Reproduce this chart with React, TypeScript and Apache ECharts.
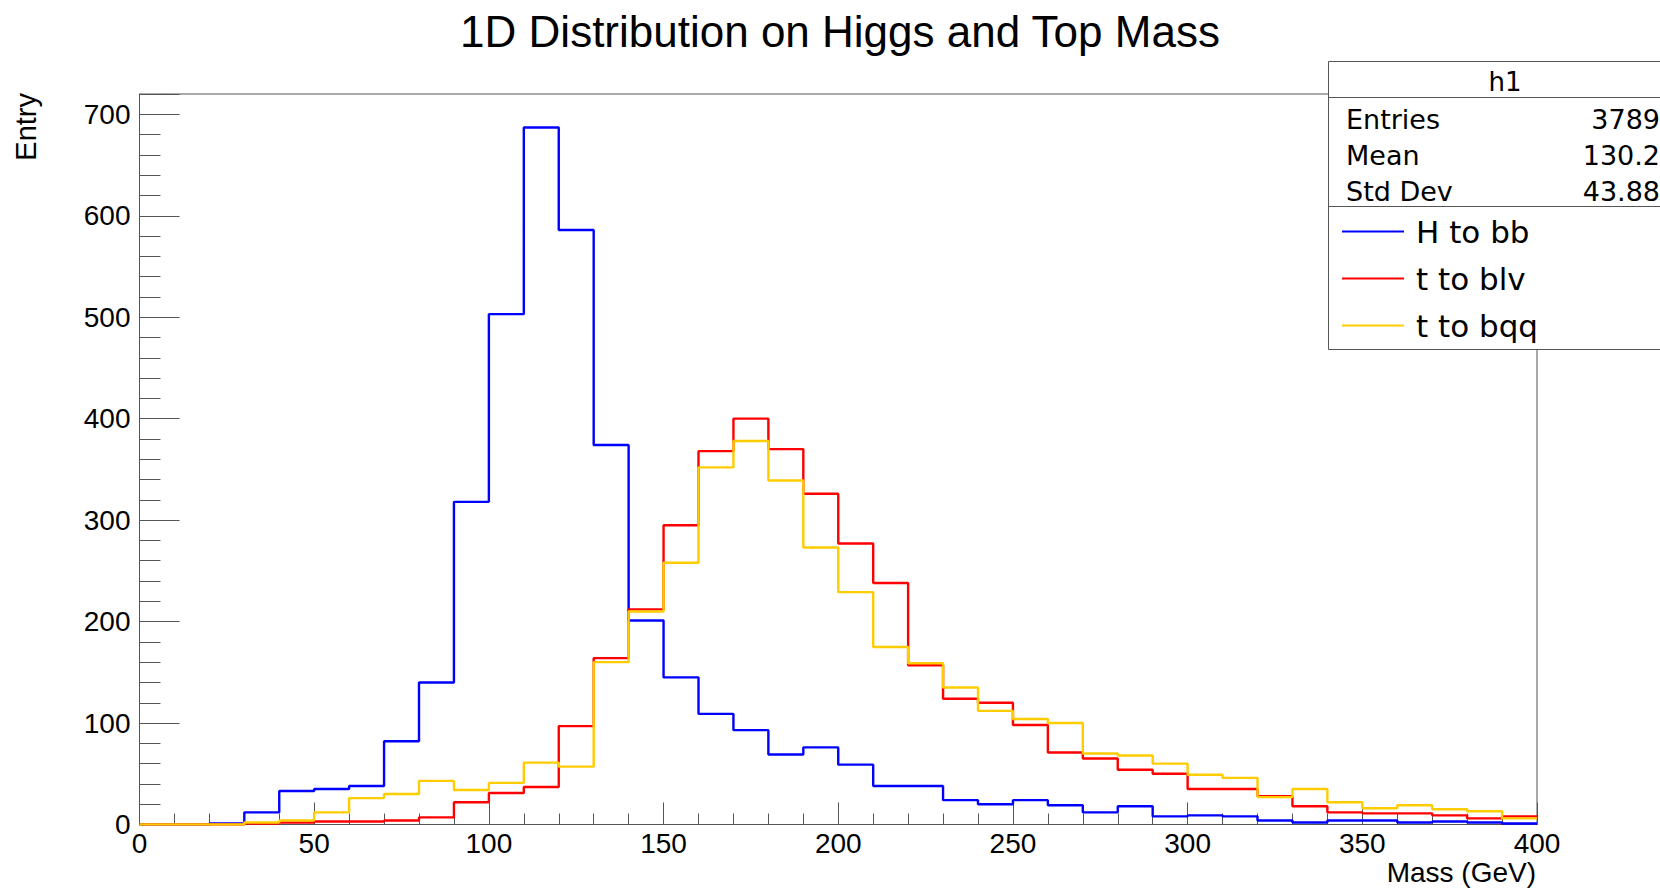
import React, { useEffect, useRef } from "react";
import * as echarts from "echarts";

const binEdges = [
  0, 10, 20, 30, 40, 50, 60, 70, 80, 90, 100, 110, 120, 130, 140, 150, 160, 170, 180, 190, 200,
  210, 220, 230, 240, 250, 260, 270, 280, 290, 300, 310, 320, 330, 340, 350, 360, 370, 380, 390, 400,
];

const hToBB = [
  0, 0, 1, 12, 33, 35, 38, 82, 140, 318, 503, 687, 586, 374, 201, 145, 109, 93, 69, 76,
  59, 38, 38, 24, 20, 24, 19, 12, 18, 8, 9, 8, 4, 2, 4, 4, 2, 3, 2, 1,
];

const tToBLV = [
  0, 0, 0, 1, 2, 3, 3, 4, 7, 22, 31, 37, 97, 164, 212, 295, 368, 400, 370, 326,
  277, 238, 157, 124, 120, 98, 71, 65, 54, 50, 35, 35, 28, 18, 12, 11, 11, 9, 6, 8,
];

const tToBQQ = [
  0, 0, 0, 2, 4, 12, 26, 30, 43, 34, 41, 61, 57, 160, 210, 258, 352, 378, 339, 273,
  229, 175, 159, 135, 112, 104, 100, 70, 68, 60, 49, 46, 27, 35, 22, 16, 19, 15, 13, 6,
];

const seriesNames = ["H to bb", "t to blv", "t to bqq"];
const seriesColors = ["#0000ff", "#ff0000", "#ffcc00"];

const statLabels = ["Entries", "Mean", "Std Dev"];
const statValues = ["3789", "130.2", "43.88"];

const yTickValues = [0, 100, 200, 300, 400, 500, 600, 700];
const xTickValues = [0, 50, 100, 150, 200, 250, 300, 350, 400];

const toSteps = (vals: number[]) =>
  binEdges.map((e, i) => [e, vals[Math.min(i, vals.length - 1)]]);

const AXIS_COLOR = "#555";
const FONT = "Liberation Sans, Arial, Helvetica, sans-serif";

export default function App() {
  const ref = useRef<HTMLDivElement>(null);

  useEffect(() => {
    if (!ref.current) return;
    const chart = echarts.init(ref.current, undefined, { renderer: "svg" });

    const allSeries = [hToBB, tToBLV, tToBQQ];

    const statY = [119, 155, 191];

    const option: any = {
      animation: false,
      backgroundColor: "#ffffff",
      title: {
        text: "1D Distribution on Higgs and Top Mass",
        left: 840,
        top: 9,
        padding: 0,
        textAlign: "center",
        textStyle: {
          fontFamily: FONT,
          fontSize: 44,
          lineHeight: 44,
          fontWeight: "normal",
          color: "#000",
        },
      },
      grid: {
        left: 139.5,
        right: 123,
        top: 94,
        bottom: 65.5,
        show: true,
        borderColor: AXIS_COLOR,
        borderWidth: 1,
        backgroundColor: "transparent",
      },
      legend: {
        orient: "vertical",
        left: 1337,
        top: 211,
        z: 20,
        icon: "rect",
        itemWidth: 62,
        itemHeight: 2,
        itemGap: 16,
        selectedMode: false,
        data: seriesNames,
        textStyle: {
          fontFamily: "DejaVu Sans, sans-serif",
          fontSize: 31,
          lineHeight: 31,
          color: "#000",
          padding: [0, 0, 0, 7],
        },
      },
      xAxis: [
        {
          type: "value",
          min: 0,
          max: 400,
          interval: 50,
          position: "bottom",
          axisLine: { show: true, onZero: false, lineStyle: { color: AXIS_COLOR, width: 1 } },
          axisTick: { show: true, inside: true, length: 22, lineStyle: { color: AXIS_COLOR, width: 1 } },
          axisLabel: {
            show: true,
            margin: 5,
            fontFamily: FONT,
            fontSize: 28,
            color: "#000",
            formatter: (v: number) => (xTickValues.includes(v) ? String(v) : ""),
          },
          splitLine: { show: false },
        },
        {
          type: "value",
          min: 0,
          max: 400,
          interval: 10,
          position: "bottom",
          axisLine: { show: false },
          axisTick: { show: true, inside: true, length: 11, lineStyle: { color: AXIS_COLOR, width: 1 } },
          axisLabel: { show: false },
          splitLine: { show: false },
        },
      ],
      yAxis: [
        {
          type: "value",
          min: 0,
          max: 720,
          interval: 100,
          position: "left",
          axisLine: { show: true, onZero: false, lineStyle: { color: AXIS_COLOR, width: 1 } },
          axisTick: { show: true, inside: true, length: 40, lineStyle: { color: AXIS_COLOR, width: 1 } },
          axisLabel: {
            show: true,
            margin: 9,
            fontFamily: FONT,
            fontSize: 28,
            color: "#000",
            formatter: (v: number) => (yTickValues.includes(v) ? String(v) : ""),
          },
          splitLine: { show: false },
        },
        {
          type: "value",
          min: 0,
          max: 720,
          interval: 20,
          position: "left",
          axisLine: { show: false },
          axisTick: { show: true, inside: true, length: 21, lineStyle: { color: AXIS_COLOR, width: 1 } },
          axisLabel: { show: false },
          splitLine: { show: false },
        },
      ],
      series: allSeries.map((vals, i) => ({
        name: seriesNames[i],
        type: "line",
        step: "end",
        xAxisIndex: 0,
        yAxisIndex: 0,
        data: toSteps(vals),
        showSymbol: false,
        symbol: "none",
        color: seriesColors[i],
        lineStyle: { color: seriesColors[i], width: 2.4 },
        z: 2 + i,
      })),
      graphic: [
        {
          type: "rect",
          z: 10,
          shape: { x: 1328.5, y: 61.5, width: 340, height: 288 },
          style: { fill: "#ffffff", stroke: AXIS_COLOR, lineWidth: 1 },
        },
        {
          type: "line",
          z: 11,
          shape: { x1: 1328.5, y1: 97.5, x2: 1670, y2: 97.5 },
          style: { stroke: AXIS_COLOR, lineWidth: 1 },
        },
        {
          type: "line",
          z: 11,
          shape: { x1: 1328.5, y1: 206.5, x2: 1670, y2: 206.5 },
          style: { stroke: AXIS_COLOR, lineWidth: 1 },
        },
        {
          type: "text",
          z: 11,
          x: 1505,
          y: 82,
          style: {
            text: "h1",
            fontFamily: "DejaVu Sans, sans-serif",
            fontSize: 26,
            fill: "#000",
            align: "center",
            verticalAlign: "middle",
          },
        },
        ...statLabels.map((t, i) => ({
          type: "text",
          z: 11,
          x: 1346,
          y: statY[i],
          style: {
            text: t,
            fontFamily: "DejaVu Sans, sans-serif",
            fontSize: 27,
            fill: "#000",
            align: "left",
            verticalAlign: "middle",
          },
        })),
        ...statValues.map((t, i) => ({
          type: "text",
          z: 11,
          x: 1660,
          y: statY[i],
          style: {
            text: t,
            fontFamily: "DejaVu Sans, sans-serif",
            fontSize: 27,
            fill: "#000",
            align: "right",
            verticalAlign: "middle",
          },
        })),
        {
          type: "text",
          x: 1536,
          y: 872,
          style: {
            text: "Mass (GeV)",
            fontFamily: FONT,
            fontSize: 28,
            fill: "#000",
            align: "right",
            verticalAlign: "middle",
          },
        },
        {
          type: "text",
          x: 26,
          y: 93,
          rotation: Math.PI / 2,
          style: {
            text: "Entry",
            fontFamily: FONT,
            fontSize: 29,
            fill: "#000",
            align: "right",
            verticalAlign: "middle",
          },
        },
      ],
    };

    chart.setOption(option);
    return () => chart.dispose();
  }, []);

  return (
    <div
      ref={ref}
      style={{ position: "absolute", left: 0, top: 0, width: 1660, height: 890 }}
    />
  );
}
